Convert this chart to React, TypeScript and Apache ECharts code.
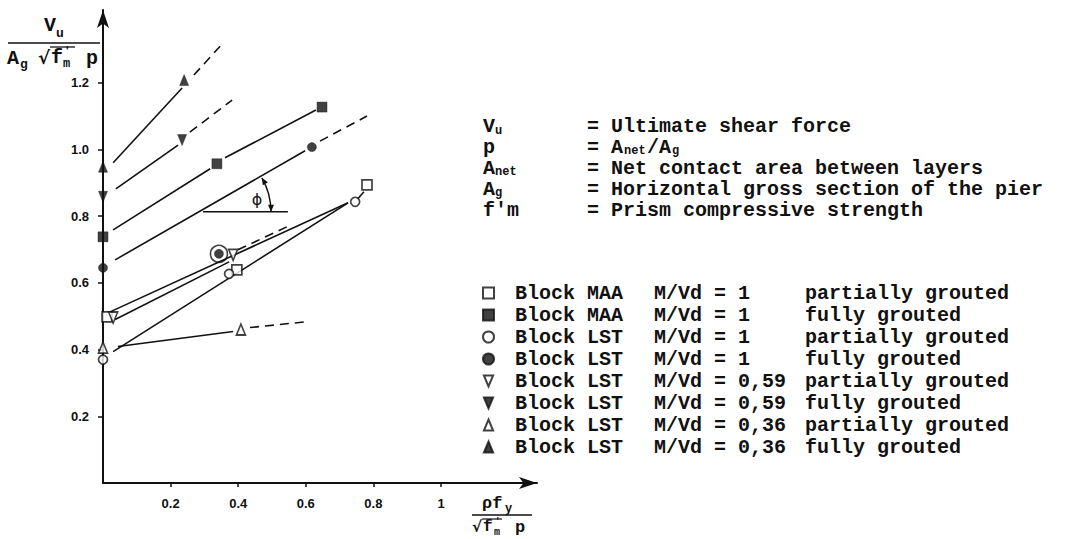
import React, { useEffect, useRef } from "react";
import * as echarts from "echarts";

// ---- axis ticks ----
const xTickValues = [0.2, 0.4, 0.6, 0.8, 1.0];
const yTickValues = [0.2, 0.4, 0.6, 0.8, 1.0, 1.2];

// ---- measured points (x = rho*fy/(sqrt(f'm) p), y = Vu/(Ag sqrt(f'm) p)) ----
const maaPartial = [[0.012, 0.498], [0.396, 0.639], [0.781, 0.894]];
const maaFull = [[0.0, 0.738], [0.337, 0.957], [0.648, 1.127]];
const lst1Partial = [[0.0, 0.37], [0.373, 0.627], [0.746, 0.843]];
const lst1Full = [[0.0, 0.645], [0.618, 1.007], [0.343, 0.687]];
const ringedPoint = [[0.343, 0.687]];
const lst059Partial = [[0.03, 0.496], [0.385, 0.684]];
const lst059Full = [[0.0, 0.858], [0.234, 1.028]];
const lst036Partial = [[0.0, 0.406], [0.408, 0.46]];
const lst036Full = [[0.0, 0.948], [0.24, 1.208]];

// ---- fitted lines ----
const solidSegments = [
  [[0.03, 0.96], [0.234, 1.184]],
  [[0.038, 0.882], [0.222, 1.013]],
  [[0.03, 0.759], [0.317, 0.942]],
  [[0.361, 0.975], [0.63, 1.118]],
  [[0.036, 0.669], [0.598, 0.996]],
  [[0.021, 0.513], [0.725, 0.84]],
  [[0.036, 0.49], [0.373, 0.663]],
  [[0.03, 0.394], [0.725, 0.84]],
  [[0.754, 0.852], [0.772, 0.873]],
  [[0.044, 0.409], [0.385, 0.454]],
];
const dashedSegments = [
  [[0.269, 1.223], [0.355, 1.319]],
  [[0.257, 1.052], [0.382, 1.148]],
  [[0.642, 1.025], [0.781, 1.1]],
  [[0.399, 0.699], [0.544, 0.768]],
  [[0.435, 0.466], [0.607, 0.484]],
];

// angle annotation: [centerX, centerY, horizontalEndX, arcRadiusX, labelX, labelY]
const phiAnnotation = [[0.296, 0.813, 0.547, 0.497, 0.456, 0.849]];

// ---- legend ----
const legendBlock = ["Block MAA", "Block MAA", "Block LST", "Block LST", "Block LST", "Block LST", "Block LST", "Block LST"];
const legendRatio = ["M/Vd = 1", "M/Vd = 1", "M/Vd = 1", "M/Vd = 1", "M/Vd = 0,59", "M/Vd = 0,59", "M/Vd = 0,36", "M/Vd = 0,36"];
const legendGrout = ["partially grouted", "fully grouted", "partially grouted", "fully grouted", "partially grouted", "fully grouted", "partially grouted", "fully grouted"];

const INK = "#111";
const MONO = "'Liberation Mono', 'DejaVu Sans Mono', monospace";
const downTri = "path://M0,0L10,0L5,12Z";
const upTri = "path://M5,0L10,12L0,12Z";

const markerDefs = [
  { data: maaPartial, symbol: "rect", size: 10, filled: false },
  { data: maaFull, symbol: "rect", size: 10, filled: true },
  { data: lst1Partial, symbol: "circle", size: 9, filled: false },
  { data: lst1Full, symbol: "circle", size: 9, filled: true },
  { data: lst059Partial, symbol: downTri, size: [9, 11], filled: false },
  { data: lst059Full, symbol: downTri, size: [9, 11], filled: true },
  { data: lst036Partial, symbol: upTri, size: [9, 11], filled: false },
  { data: lst036Full, symbol: upTri, size: [9, 11], filled: true },
];

const seriesNames = legendBlock.map((b, i) => `${b} ${legendRatio[i]} ${legendGrout[i]}`);

function txt(x: number, y: number, text: string, size: number, family = MONO, weight = "bold") {
  return {
    type: "text",
    x,
    y,
    silent: true,
    style: {
      text,
      fill: INK,
      font: `${weight} ${size}px ${family}`,
      align: "left",
      verticalAlign: "middle",
    },
  };
}
function hline(x1: number, y: number, x2: number, w = 1.5) {
  return { type: "line", silent: true, shape: { x1, y1: y, x2, y2: y }, style: { stroke: INK, lineWidth: w } };
}

function buildGraphic() {
  const g: any[] = [];
  // y-axis name (fraction)
  g.push(txt(44, 25, "V", 20));
  g.push(txt(56, 33, "u", 13));
  g.push(hline(8, 43, 100));
  g.push(txt(7, 58, "A", 20));
  g.push(txt(20, 64, "g", 13));
  g.push(txt(38, 57, "√", 18, "'DejaVu Sans'", "bold"));
  g.push(hline(50, 47, 75, 1.3));
  g.push(txt(51, 57, "f", 20));
  g.push(txt(64, 51, "'", 11));
  g.push(txt(63, 64, "m", 12));
  g.push(txt(86, 58, "p", 20));
  // x-axis name (fraction)
  g.push(txt(482, 503, "ρf", 17));
  g.push(txt(505, 509, "y", 12));
  g.push(hline(472, 515, 532));
  g.push(txt(472, 527, "√", 15, "'DejaVu Sans'", "bold"));
  g.push(hline(482, 519, 502, 1.2));
  g.push(txt(483, 527, "f", 16));
  g.push(txt(495, 522, "'", 9));
  g.push(txt(494, 532, "m", 10));
  g.push(txt(515, 527, "p", 17));
  // definitions block
  const rows = [126, 147, 168, 189, 210];
  g.push(txt(483, rows[0], "V", 20));
  g.push(txt(495, rows[0] + 5, "u", 12));
  g.push(txt(587, rows[0], "= Ultimate shear force", 20));
  g.push(txt(483, rows[1], "p", 20));
  g.push(txt(587, rows[1], "= A", 20));
  g.push(txt(624, rows[1] + 4, "net", 12));
  g.push(txt(647, rows[1], "/A", 20));
  g.push(txt(672, rows[1] + 4, "g", 12));
  g.push(txt(483, rows[2], "A", 20));
  g.push(txt(495, rows[2] + 4, "net", 12));
  g.push(txt(587, rows[2], "= Net contact area between layers", 20));
  g.push(txt(483, rows[3], "A", 20));
  g.push(txt(495, rows[3] + 4, "g", 12));
  g.push(txt(587, rows[3], "= Horizontal gross section of the pier", 20));
  g.push(txt(483, rows[4], "f'm", 20));
  g.push(txt(587, rows[4], "= Prism compressive strength", 20));
  return g;
}

function buildOption() {
  const series: any[] = [];
  solidSegments.forEach((seg) =>
    series.push({
      type: "line",
      data: seg,
      showSymbol: false,
      silent: true,
      lineStyle: { color: INK, width: 1.6 },
      z: 2,
    })
  );
  dashedSegments.forEach((seg) =>
    series.push({
      type: "line",
      data: seg,
      showSymbol: false,
      silent: true,
      lineStyle: { color: INK, width: 1.6, type: [9, 6] },
      z: 2,
    })
  );
  series.push({
    type: "custom",
    coordinateSystem: "cartesian2d",
    data: phiAnnotation,
    silent: true,
    clip: false,
    z: 3,
    renderItem: (params: any, api: any) => {
      const cx = api.value(0), cy = api.value(1), ex = api.value(2), rx = api.value(3), lx = api.value(4), ly = api.value(5);
      const c = api.coord([cx, cy]);
      const e = api.coord([ex, cy]);
      const r = api.coord([rx, cy])[0] - c[0];
      const p1 = api.coord(lst1Full[0]);
      const p2 = api.coord(lst1Full[1]);
      const theta = Math.atan2(p1[1] - p2[1], p2[0] - p1[0]);
      const lab = api.coord([lx, ly]);
      const a0 = -theta;
      const topPt = [c[0] + r * Math.cos(a0), c[1] + r * Math.sin(a0)];
      const botPt = [c[0] + r, c[1]];
      const head = (tip: number[], dir: number[]) => {
        const L = 7, W = 3;
        const bx = tip[0] - dir[0] * L, by = tip[1] - dir[1] * L;
        const nx = -dir[1], ny = dir[0];
        return {
          type: "polygon",
          shape: { points: [tip, [bx + nx * W, by + ny * W], [bx - nx * W, by - ny * W]] },
          style: { fill: INK },
        };
      };
      return {
        type: "group",
        children: [
          { type: "line", shape: { x1: c[0], y1: c[1], x2: e[0], y2: e[1] }, style: { stroke: INK, lineWidth: 1.6 } },
          {
            type: "arc",
            shape: { cx: c[0], cy: c[1], r, startAngle: a0, endAngle: 0, clockwise: true },
            style: { stroke: INK, fill: "none", lineWidth: 1.4 },
          },
          head(topPt, [Math.sin(a0), -Math.cos(a0)]),
          head(botPt, [0, 1]),
          {
            type: "text",
            x: lab[0],
            y: lab[1],
            style: { text: "ϕ", fill: INK, font: "16px 'DejaVu Sans'", align: "center", verticalAlign: "middle" },
          },
        ],
      };
    },
  });
  series.push({
    type: "scatter",
    data: ringedPoint,
    symbol: "circle",
    symbolSize: 17,
    silent: true,
    itemStyle: { color: "rgba(0,0,0,0)", borderColor: INK, borderWidth: 1.6 },
    z: 6,
  });
  markerDefs.forEach((m, i) =>
    series.push({
      type: "scatter",
      name: seriesNames[i],
      data: m.data,
      symbol: m.symbol,
      symbolSize: m.size,
      silent: true,
      itemStyle: m.filled
        ? { color: INK, borderColor: INK, borderWidth: 0.5 }
        : { color: "#fff", borderColor: INK, borderWidth: 1.7 },
      z: 5,
    })
  );

  const legendRich = {
    a: { width: 139, fontFamily: MONO, fontSize: 20, fontWeight: "bold", color: INK, lineHeight: 20 },
    b: { width: 151, fontFamily: MONO, fontSize: 20, fontWeight: "bold", color: INK, lineHeight: 20 },
    c: { fontFamily: MONO, fontSize: 20, fontWeight: "bold", color: INK, lineHeight: 20 },
  };

  return {
    animation: false,
    backgroundColor: "#fff",
    grid: { left: 103, top: 10, width: 434, height: 473, containLabel: false },
    xAxis: {
      type: "value",
      min: 0,
      max: 1.284,
      interval: 0.2,
      splitLine: { show: false },
      axisLine: { show: true, lineStyle: { color: INK, width: 2 }, symbol: ["none", "arrow"], symbolSize: [9, 18] },
      axisTick: { show: true, length: 4, lineStyle: { color: INK, width: 1.5 }, customValues: xTickValues },
      axisLabel: {
        customValues: xTickValues,
        margin: 14,
        color: INK,
        fontFamily: "'Liberation Sans', sans-serif",
        fontWeight: "bold",
        fontSize: 13,
        formatter: (v: number) => (v <= 0 || v > 1.05 ? "" : Math.abs(v - 1) < 1e-6 ? "1" : v.toFixed(1)),
      },
    },
    yAxis: {
      type: "value",
      min: 0,
      max: 1.418,
      interval: 0.2,
      splitLine: { show: false },
      axisLine: { show: true, lineStyle: { color: INK, width: 2 }, symbol: ["none", "arrow"], symbolSize: [9, 18] },
      axisTick: { show: true, length: 5, lineStyle: { color: INK, width: 1.5 }, customValues: yTickValues },
      axisLabel: {
        customValues: yTickValues,
        margin: 14,
        color: INK,
        fontFamily: "'Liberation Sans', sans-serif",
        fontWeight: "bold",
        fontSize: 13,
        formatter: (v: number) => (v <= 0 || v > 1.25 ? "" : v.toFixed(1)),
      },
    },
    legend: {
      show: true,
      orient: "vertical",
      left: 482,
      top: 283,
      padding: 0,
      itemWidth: 11,
      itemHeight: 11,
      itemGap: 2,
      selectedMode: false,
      data: seriesNames,
      textStyle: { color: INK, fontFamily: MONO, fontSize: 20, fontWeight: "bold", lineHeight: 20, padding: [0, 0, 0, 16], rich: legendRich },
      formatter: (name: string) => {
        const i = seriesNames.indexOf(name);
        return `{a|${legendBlock[i]}}{b|${legendRatio[i]}}{c|${legendGrout[i]}}`;
      },
    },
    graphic: buildGraphic(),
    series,
  };
}

export default function App() {
  const ref = useRef<HTMLDivElement>(null);
  useEffect(() => {
    document.body.style.margin = "0";
    const chart = echarts.init(ref.current as HTMLDivElement, null, { renderer: "svg" });
    chart.setOption(buildOption() as any);
    return () => chart.dispose();
  }, []);
  return <div ref={ref} style={{ width: 1065, height: 539 }} />;
}
